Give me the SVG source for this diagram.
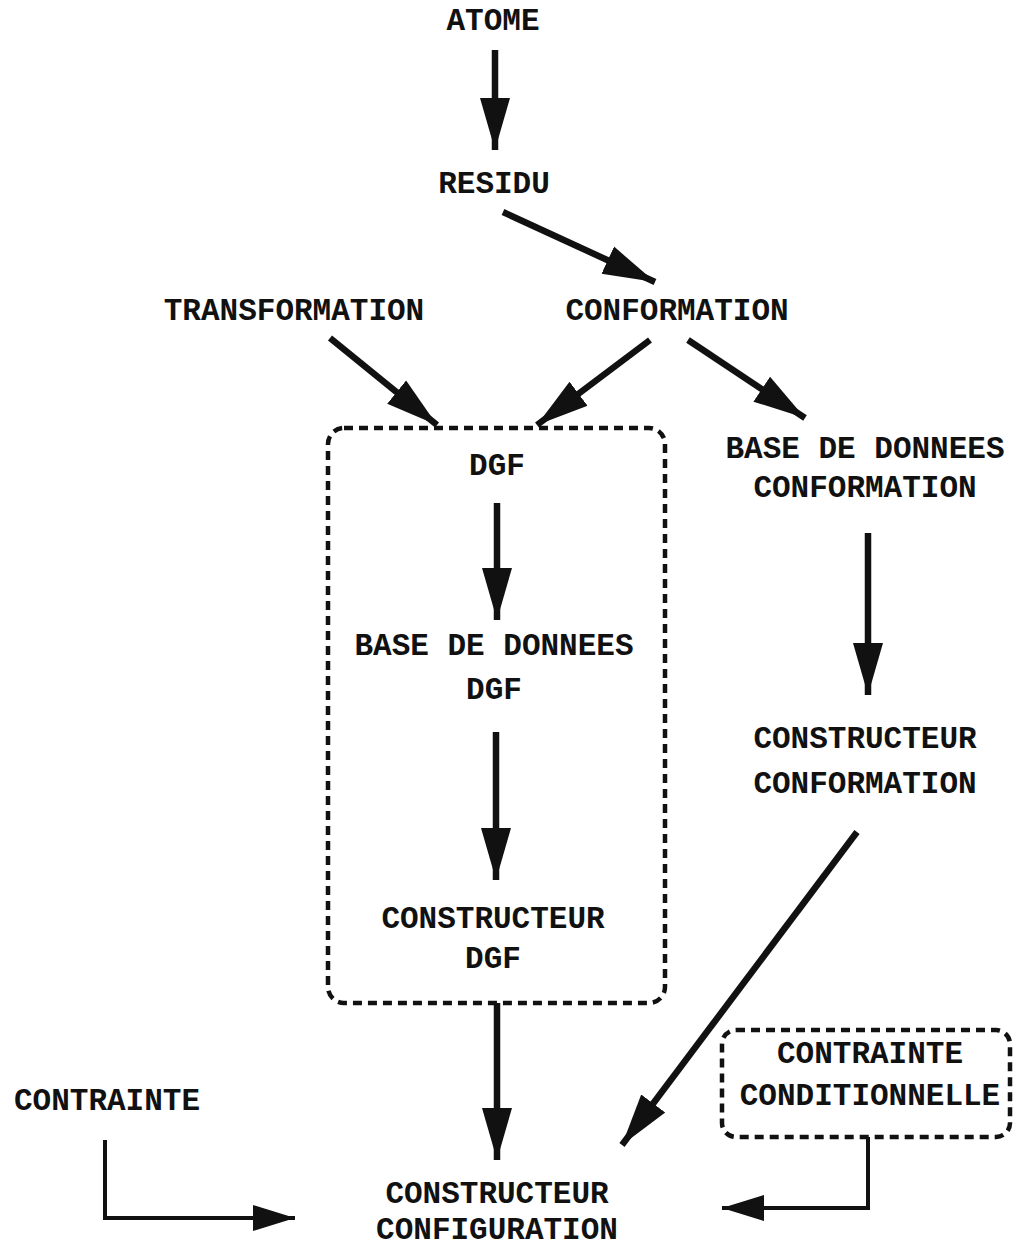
<svg xmlns="http://www.w3.org/2000/svg" width="1013" height="1248" viewBox="0 0 1013 1248">
  <style>
    .lbl { font-family: "Liberation Mono", "Courier New", monospace; font-weight: bold; font-size: 31px; fill: #111; text-anchor: middle; }
    .edge { stroke: #111; stroke-width: 6.5; fill: none; }
    .thin { stroke: #111; stroke-width: 4; fill: none; }
    .frame { stroke: #111; stroke-width: 4.5; fill: none; stroke-dasharray: 9 6; }
  </style>
  <defs>
    <marker id="head" markerUnits="userSpaceOnUse" markerWidth="54" markerHeight="32" refX="52" refY="16" orient="auto">
      <path d="M0,1 L52,16 L0,31 Z" fill="#111"/>
    </marker>
    <marker id="headS" markerUnits="userSpaceOnUse" markerWidth="44" markerHeight="30" refX="42" refY="15" orient="auto">
      <path d="M0,2 L42,15 L0,28 Z" fill="#111"/>
    </marker>
  </defs>

  <rect width="1013" height="1248" fill="#fff"/>

  <g id="connectors">
    <line class="edge" x1="495" y1="50" x2="495" y2="150" marker-end="url(#head)"/>
    <line class="edge" x1="503" y1="212" x2="655" y2="282" marker-end="url(#head)"/>
    <line class="edge" x1="330" y1="338" x2="437" y2="425" marker-end="url(#head)"/>
    <line class="edge" x1="650" y1="340" x2="537" y2="425" marker-end="url(#head)"/>
    <line class="edge" x1="688" y1="340" x2="805" y2="418" marker-end="url(#head)"/>
    <line class="edge" x1="497" y1="503" x2="497" y2="620" marker-end="url(#head)"/>
    <line class="edge" x1="496" y1="732" x2="496" y2="880" marker-end="url(#head)"/>
    <line class="edge" x1="497" y1="1003" x2="497" y2="1160" marker-end="url(#head)"/>
    <line class="edge" x1="868" y1="533" x2="868" y2="695" marker-end="url(#head)"/>
    <line class="edge" x1="857" y1="832" x2="622" y2="1145" marker-end="url(#head)"/>
    <polyline class="thin" points="105,1140 105,1218 295,1218" marker-end="url(#headS)"/>
    <polyline class="thin" points="868,1137 868,1208 722,1208" marker-end="url(#headS)"/>
  </g>

  <g id="atome"><text class="lbl" x="493" y="30">ATOME</text></g>
  <g id="residu"><text class="lbl" x="494" y="193">RESIDU</text></g>
  <g id="transformation"><text class="lbl" x="294" y="320">TRANSFORMATION</text></g>
  <g id="conformation"><text class="lbl" x="677" y="320">CONFORMATION</text></g>

  <g id="dgf-group">
    <rect class="frame" x="328" y="428" width="337" height="575" rx="16" ry="16"/>
  </g>
  <g id="dgf"><text class="lbl" x="497" y="475">DGF</text></g>
  <g id="bdd-dgf">
    <text class="lbl" x="494" y="655">BASE DE DONNEES</text>
    <text class="lbl" x="494" y="699">DGF</text>
  </g>
  <g id="constructeur-dgf">
    <text class="lbl" x="493" y="928">CONSTRUCTEUR</text>
    <text class="lbl" x="493" y="968">DGF</text>
  </g>

  <g id="bdd-conformation">
    <text class="lbl" x="865" y="458">BASE DE DONNEES</text>
    <text class="lbl" x="865" y="497">CONFORMATION</text>
  </g>
  <g id="constructeur-conformation">
    <text class="lbl" x="865" y="748">CONSTRUCTEUR</text>
    <text class="lbl" x="865" y="793">CONFORMATION</text>
  </g>

  <g id="contrainte"><text class="lbl" x="107" y="1110">CONTRAINTE</text></g>
  <g id="contrainte-conditionnelle">
    <rect class="frame" x="722" y="1030" width="288" height="107" rx="14" ry="14"/>
    <text class="lbl" x="870" y="1063">CONTRAINTE</text>
    <text class="lbl" x="870" y="1105">CONDITIONNELLE</text>
  </g>
  <g id="constructeur-configuration">
    <text class="lbl" x="497" y="1203">CONSTRUCTEUR</text>
    <text class="lbl" x="497" y="1239">CONFIGURATION</text>
  </g>
</svg>
